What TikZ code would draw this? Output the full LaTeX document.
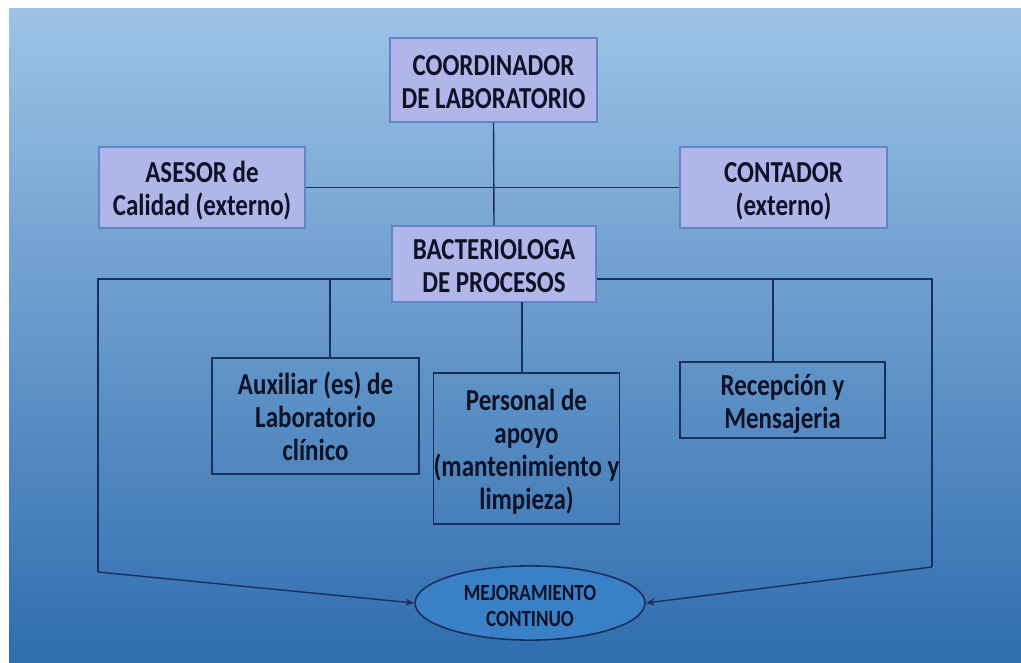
\documentclass[tikz,border=0pt]{standalone}
\usepackage{fontspec}
\usepackage{graphicx}
\setmainfont{Carlito}
\usetikzlibrary{shapes.geometric,arrows.meta}
\definecolor{bgtop}{HTML}{9DC3E6}
\definecolor{bgbot}{HTML}{2F6DAF}
\definecolor{topfill}{HTML}{B1B6EA}
\definecolor{topline}{HTML}{6384C8}
\definecolor{navy}{HTML}{1B2F5C}
\definecolor{txt}{HTML}{0E1226}
\definecolor{elfill}{HTML}{3A80C6}
\newcommand\tallt[1]{\raisebox{-5pt}[\height][\depth]{\scalebox{1}[1.22]{\begin{tabular}{@{}c@{}}#1\end{tabular}}}}
\tikzset{
  upbox/.style={draw=topline, line width=1.6pt, fill=topfill, align=center, inner sep=0pt,
    font=\fontsize{25}{27.2}\selectfont\bfseries, text=txt},
  lowbox/.style={draw=navy, line width=1.6pt, align=center, inner sep=0pt,
    font=\fontsize{25}{27.2}\selectfont\bfseries, text=txt},
  link/.style={draw=navy, line width=1.4pt},
  arr/.style={link, -{Stealth[length=9pt,width=7pt]}}
}
\begin{document}
\begin{tikzpicture}[x=1pt,y=-1pt]
\useasboundingbox (0,0) rectangle (1021,662);
\fill[white] (0,0) rectangle (1021,662);
\shade[top color=bgtop, bottom color=bgbot] (9,8) rectangle (1021,662);

\node[upbox, minimum width=207, minimum height=84] (coord) at (493.5,80) {\tallt{COORDINADOR\\DE LABORATORIO}};
\node[upbox, minimum width=206, minimum height=81] (asesor) at (202,187.5) {\tallt{ASESOR de\\Calidad (externo)}};
\node[upbox, minimum width=207, minimum height=81] (contador) at (783.5,187.5) {\tallt{CONTADOR\\(externo)}};
\node[upbox, minimum width=204, minimum height=76] (bact) at (494,264) {\tallt{BACTERIOLOGA\\DE PROCESOS}};
\node[lowbox, minimum width=207, minimum height=116] (aux) at (315.5,416) {\tallt{Auxiliar (es) de\\Laboratorio\\clínico}};
\node[lowbox, minimum width=179, minimum height=151] (pers) at (526.5,448.5) {\tallt{Personal de\\apoyo\\(mantenimiento y\\limpieza)}};
\node[lowbox, minimum width=205, minimum height=76] (recep) at (782.5,400) {\tallt{Recepción y\\Mensajeria}};
\node[ellipse, draw=navy, line width=1.6pt, fill=elfill, minimum width=230, minimum height=63, inner sep=0pt,
  align=center, font=\fontsize{19}{21.5}\selectfont\bfseries, text=txt] (mej) at (530,603) {\tallt{MEJORAMIENTO\\CONTINUO}};

\coordinate (L) at (98,279);
\coordinate (Lb) at (98,572);
\coordinate (R) at (932,279);
\coordinate (Rb) at (932,567);
\coordinate (d1) at (330,279);
\coordinate (d2) at (522,302);
\coordinate (d3) at (773,279);

\draw[link] (asesor.east) -- (contador.west);
\draw[link] (coord.south) -- (bact.north);
\draw[link] (bact.west |- L) -- (L) -- (Lb);
\draw[arr] (Lb) -- (mej.west);
\draw[link] (bact.east |- R) -- (R) -- (Rb);
\draw[arr] (Rb) -- (mej.east);
\draw[link] (d1) -- (d1 |- aux.north);
\draw[link] (d2) -- (d2 |- pers.north);
\draw[link] (d3) -- (d3 |- recep.north);
\end{tikzpicture}
\end{document}
